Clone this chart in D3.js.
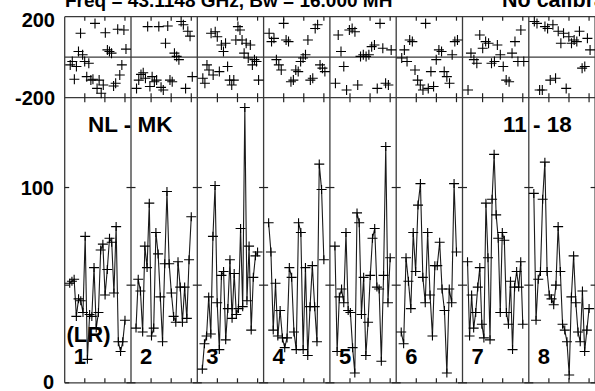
<!DOCTYPE html>
<html><head><meta charset="utf-8">
<script src="https://cdn.jsdelivr.net/npm/d3@7"></script>
<style>
body{margin:0;background:#fff;}
svg{display:block;font-family:"Liberation Sans",Arial,sans-serif;font-weight:bold;}
</style>
</head><body><svg id="c" width="595" height="391"></svg>
<script>
// ---------- data ----------
const panels = ["1","2","3","4","5","6","7","8"];
const titleMain = "Freq = 43.1148 GHz, Bw = 16.000 MH";
const titleTail = "No calibration applied";
const baselineLabel = "NL - MK";
const ifLabel = "11 - 18";
const stokesLabel = "(LR)";
const ampTickValues = [0, 50, 100];
const ampTickLabels = [0, 100];
const phaseTickLabels = [200, -200];
const timeTicks = [20, 40, 60];

const amp1 = [51,52,53,34,43,42,36,75,12,35,34,59,28,36,68,71,45,58,74,72,46,80,21,16,21,32];
const amp2 = [28,53,47,26,70,59,92,24,28,77,66,44,21,61,98,61,46,34,31,62,49,31,49,33,63,85];
const amp3 = [7,20,24,44,25,75,101,41,17,55,57,22,38,63,33,56,35,38,79,39,141,42,70,27,54,65,67];
const amp4 = [82,67,27,51,24,37,23,18,23,59,54,26,17,82,77,17,59,14,39,60,39,21,112,99,63];
const amp5 = [70,16,44,48,41,77,37,36,18,5,87,82,35,54,14,31,55,74,79,49,48,11,55,121,41,64];
const amp6 = [26,20,64,52,38,77,57,91,102,54,41,77,45,24,60,60,72,48,37,5,48,41,102,67];
const amp7 = [62,24,45,28,36,49,59,30,23,92,64,22,94,117,86,74,36,77,73,36,30,52,17,49,57,49,62,30];
const amp8 = [97,32,53,57,94,113,57,45,43,40,50,80,57,30,27,21,4,44,65,41,26,21,47,16,27,38];

const ph1 = [-38,-21,-109,-46,28,118,12,-21,-96,-30,-113,-109,167,-154,-113,-178,-137,121,36,28,20,-142,-129,138,-88,-38,134,40];
const ph2 = [-154,-113,-85,-77,-104,151,-145,-96,-121,-113,151,-149,-162,69,154,-113,-121,20,4,-12,176,160,-154,128,104,-96];
const ph3 = [-104,-129,-38,-63,118,-88,126,101,-71,60,28,69,-46,-113,-137,-113,85,151,134,85,20,69,-4,60,-38,-12,-21,-113];
const ph4 = [118,77,93,-12,-38,-63,167,85,77,-121,-113,-63,-71,-21,-4,12,85,-113,-104,142,160,-38,-54,-71];
const ph5 = [-129,110,28,-46,-162,134,142,126,-137,4,12,4,12,52,60,-154,167,44,-129,-137,36];
const ph6 = [-4,36,-21,85,77,-63,-113,-137,-162,167,-154,-71,-145,-12,36,28,-71,-96,-129,12,77,85];
const ph7 = [-162,20,-12,-30,110,44,77,69,-30,-21,60,12,-46,-113,-121,20,77,-21,134,-21];
const ph8 = [176,167,-162,-162,151,142,-113,160,-104,128,69,118,-154,101,69,85,77,128,-54,-46,93,36];

const ampSeries = [amp1,amp2,amp3,amp4,amp5,amp6,amp7,amp8];
const phSeries = [ph1,ph2,ph3,ph4,ph5,ph6,ph7,ph8];

// ---------- layout ----------
const svg = d3.select("#c");
const L = 64.7, PW = 66.3;
const xPanel = d3.scaleBand().domain(panels).range([L, L + PW * panels.length]).paddingInner(0).paddingOuter(0);
const tScale = d3.scaleLinear().domain([0, 66]).range([0, PW]); // minutes within panel
const yAmp = d3.scaleLinear().domain([0, 146]).range([382.8, 97.7]);
const yPh = d3.scaleLinear().domain([-200, 200]).range([97.7, 16.7]);
const xRight = L + PW * panels.length;

// ---------- texts (under lines) ----------
svg.append("text").attr("x", 65).attr("y", 6.5).attr("font-size", 19).text(titleMain);
svg.append("text").attr("x", 502).attr("y", 6.5).attr("font-size", 21.5).text(titleTail);

svg.selectAll("text.pl").data(phaseTickLabels).join("text")
  .attr("text-anchor", "end").attr("x", 55).attr("font-size", 20)
  .attr("y", d => Math.max(yPh(d) + 7.3, 26.7)).text(d => d);
svg.selectAll("text.al").data(ampTickLabels).join("text")
  .attr("text-anchor", "end").attr("x", 54).attr("font-size", 20)
  .attr("y", d => Math.min(yAmp(d) + 7.3, 388.5)).text(d => d);

svg.append("text").attr("x", 88).attr("y", 131.5).attr("font-size", 22.5).text(baselineLabel);
svg.append("text").attr("x", 503).attr("y", 131.5).attr("font-size", 22.5).text(ifLabel);
svg.append("text").attr("x", 66.5).attr("y", 342).attr("font-size", 22).text(stokesLabel);
svg.selectAll("text.pn").data(panels).join("text")
  .attr("x", d => xPanel(d) + 9).attr("y", 363.5).attr("font-size", 22).text(d => d);

// ---------- frame ----------
const frame = svg.append("g").attr("stroke", "#3a3a3a").attr("stroke-width", 1.3).attr("fill", "none");
[yPh(200), yPh(0), yPh(-200), yAmp(0)].forEach(y =>
  frame.append("line").attr("x1", L).attr("x2", xRight).attr("y1", y).attr("y2", y));
const bounds = panels.map(p => xPanel(p)).concat([xRight]);
bounds.forEach(x =>
  frame.append("line").attr("x1", x).attr("x2", x).attr("y1", yPh(200)).attr("y2", yAmp(0)));

// tick marks
const tk = svg.append("g").attr("stroke", "#222").attr("stroke-width", 1.2);
bounds.forEach((x, i) => {
  ampTickValues.forEach(v => {
    tk.append("line").attr("x1", i === 0 ? x : x - 4.5).attr("x2", x + 4.5)
      .attr("y1", yAmp(v)).attr("y2", yAmp(v));
  });
});
panels.forEach(p => {
  timeTicks.forEach(t => {
    const x = xPanel(p) + tScale(t);
    tk.append("line").attr("x1", x).attr("x2", x).attr("y1", yAmp(0)).attr("y2", yAmp(0) - 4.5);
    tk.append("line").attr("x1", x).attr("x2", x).attr("y1", yPh(-200) - 4.5).attr("y2", yPh(-200) + 4.5);
    tk.append("line").attr("x1", x).attr("x2", x).attr("y1", yPh(200)).attr("y2", yPh(200) + 4);
  });
});

// ---------- data marks ----------
function cross(g, x, y, w, h) {
  g.append("path").attr("d", `M${x - w},${y}H${x + w}M${x},${y - h}V${y + h}`);
}
panels.forEach((p, i) => {
  const x0 = xPanel(p);
  const a = ampSeries[i];
  const xa = d3.scaleLinear().domain([0, a.length - 1]).range([x0 + tScale(5), x0 + tScale(60)]);
  const g = svg.append("g").attr("fill", "none");
  g.append("path").attr("stroke", "#1a1a1a").attr("stroke-width", 1.1)
    .attr("d", d3.line().x((d, j) => xa(j)).y(d => yAmp(d))(a));
  const cg = g.append("g").attr("stroke", "#000").attr("stroke-width", 1.1);
  a.forEach((d, j) => cross(cg, xa(j), yAmp(d), 5, 4.5));

  const ph = phSeries[i];
  const xp = d3.scaleLinear().domain([0, ph.length - 1]).range([x0 + tScale(5.5), x0 + tScale(61)]);
  const pg = svg.append("g").attr("stroke", "#000").attr("stroke-width", 1.1).attr("fill", "none");
  ph.forEach((d, j) => cross(pg, xp(j), yPh(d), 5, 5));
});
</script>
</body></html>
